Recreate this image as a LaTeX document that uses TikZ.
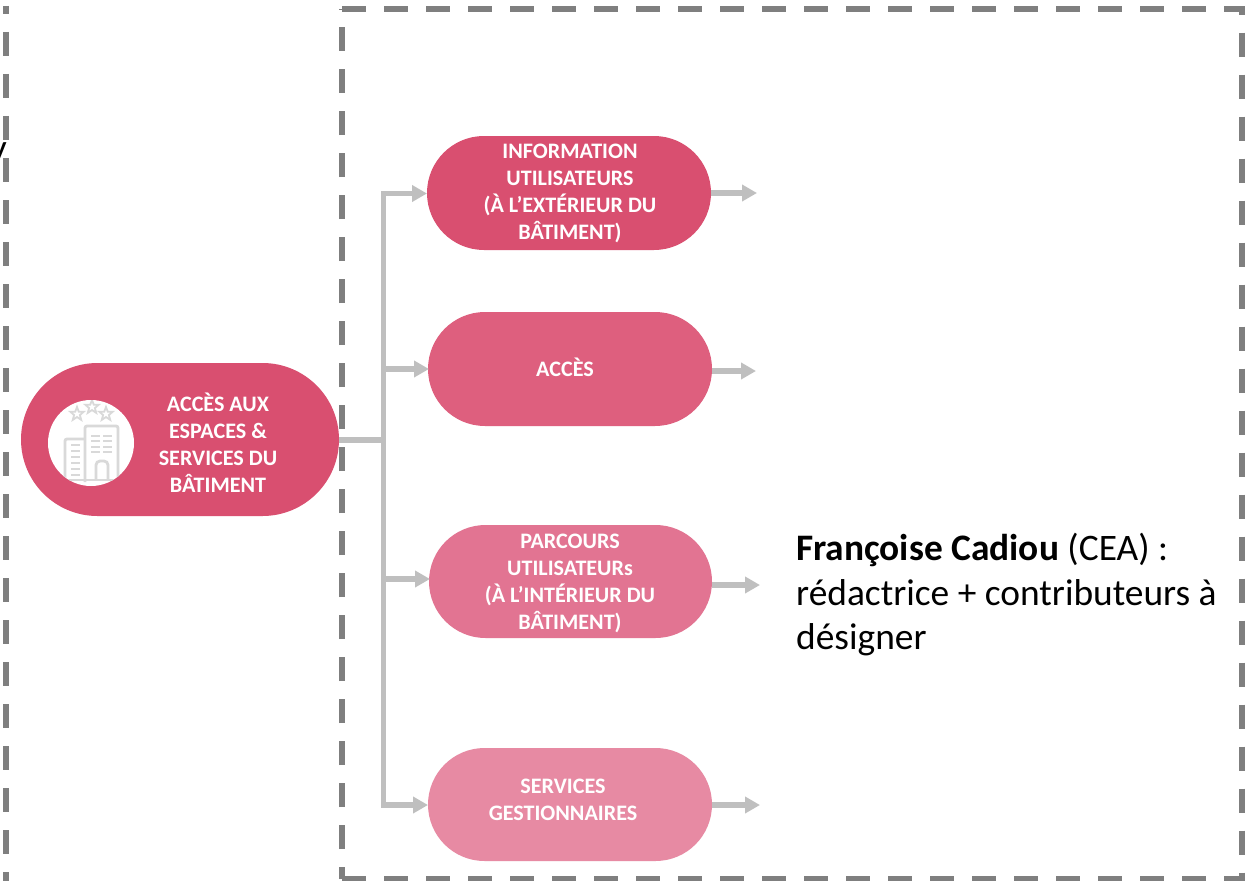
\documentclass[tikz,border=0pt]{standalone}
\usepackage{fontspec}
\setmainfont{Carlito}
\usetikzlibrary{arrows.meta,shapes.misc}
\definecolor{dashgrey}{HTML}{7F7F7F}
\definecolor{linegrey}{HTML}{BFBFBF}
\definecolor{icongrey}{HTML}{D9D9D9}
\definecolor{pinka}{HTML}{D94F70}
\definecolor{pinkb}{HTML}{DE5F7E}
\definecolor{pinkc}{HTML}{E27492}
\definecolor{pinkd}{HTML}{E78AA3}
\tikzset{
  pill/.style={rounded rectangle,rounded rectangle arc length=180,inner sep=0pt,draw=none},
  pilltext/.style={inner sep=0pt,text=white,align=center,font=\fontsize{22.1}{27}\selectfont\bfseries},
  dashline/.style={draw=dashgrey,line width=6pt,dash pattern=on 24pt off 18pt},
  conn/.style={draw=linegrey,line width=5.5pt},
  arr/.style={conn,-{Triangle[length=15pt,width=16pt]}},
  iconline/.style={draw=icongrey,line width=2.8pt},
  winline/.style={draw=icongrey,line width=2.2pt},
  staricon/.style={draw=icongrey,line width=1.8pt}
}
\newcommand{\iconstar}[2]{\draw[staricon] (#1,#2-7) -- (#1+1.8,#2-2.2) -- (#1+6.6,#2-2.2) -- (#1+2.9,#2+1) -- (#1+4.2,#2+5.8) -- (#1,#2+3) -- (#1-4.2,#2+5.8) -- (#1-2.9,#2+1) -- (#1-6.6,#2-2.2) -- (#1-1.8,#2-2.2) -- cycle;}
\begin{document}
\begin{tikzpicture}[x=1pt,y=-1pt]
\useasboundingbox (0,0) rectangle (1246,880);
\clip (0,0) rectangle (1246,880);
\fill[white] (0,0) rectangle (1246,880);
% cropped letter at left edge
\node[anchor=base east,inner sep=0pt,font=\fontsize{37.4}{44.5}\selectfont] (cut) at (7,160) {y};
% dashed frames
\draw[dashline,dash phase=16pt] (5.5,6) -- (5.5,886);
\draw[dashline] (342,8.7) -- (1242,8.7) -- (1242,879) -- (342,879);
\draw[dashline,dash phase=12pt] (342,879) -- (342,8.7);
% nodes
\node[pill,fill=pinka,minimum width=318pt,minimum height=153pt] (main) at (180,439.5) {};
\node[pill,fill=pinka,minimum width=284pt,minimum height=114pt] (info) at (569,193) {};
\node[pill,fill=pinkb,minimum width=284pt,minimum height=114pt] (acces) at (570,369) {};
\node[pill,fill=pinkc,minimum width=283pt,minimum height=113pt] (parc) at (570.5,581.5) {};
\node[pill,fill=pinkd,minimum width=284pt,minimum height=113pt] (serv) at (570,804.5) {};
\node[pilltext] (maintext) at (218,443) {ACCÈS AUX\\ESPACES \&\\SERVICES DU\\BÂTIMENT};
\node[pilltext] (infotext) at (570,193) {INFORMATION\\UTILISATEURS\\(À L’EXTÉRIEUR DU\\BÂTIMENT)};
\node[pilltext] (accestext) at (565,367) {ACCÈS};
\node[pilltext] (parctext) at (570,583.5) {PARCOURS\\UTILISATEURs\\(À L’INTÉRIEUR DU\\BÂTIMENT)};
\node[pilltext] (servtext) at (563,800) {SERVICES\\GESTIONNAIRES};
% icon
\node[circle,fill=white,minimum size=86pt,inner sep=0pt] (iconbg) at (91,443) {};
\begin{scope}
\clip (iconbg.center) circle (43pt);
\iconstar{77}{414}
\iconstar{92}{407}
\iconstar{106}{414}
\draw[iconline,rounded corners=2pt] (85,482) -- (85,426) -- (118,426) -- (118,482);
\draw[iconline,rounded corners=2pt] (85,439) -- (65,439) -- (65,482);
\draw[iconline] (60,480) -- (125,480);
\draw[iconline,rounded corners=4pt] (96,480) -- (96,461) -- (108,461) -- (108,480);
\foreach \y in {436,441,447,452}{\draw[winline] (91,\y) -- (100,\y); \draw[winline] (103,\y) -- (112,\y);}
\foreach \y in {445,451,457,463,469,475}{\draw[winline] (71,\y) -- (80,\y);}
\end{scope}
% connectors
\coordinate (trunk) at (383.5,440);
\coordinate (ta) at (383.5,193.5);
\coordinate (tb) at (383.5,369);
\coordinate (tc) at (383.5,579);
\coordinate (td) at (383.5,805);
\coordinate (ha) at (427,193.5);
\coordinate (hb) at (429,369);
\coordinate (hc) at (430,579);
\coordinate (hd) at (428,805);
\coordinate (ea) at (757,193);
\coordinate (eb) at (756,371);
\coordinate (ec) at (760,585);
\coordinate (ed) at (760,805);
\draw[conn] (main.east |- trunk) -- (trunk);
\draw[conn,line cap=rect] (ta) -- (td);
\draw[arr] (ta) -- (ha);
\draw[arr] (tb) -- (hb);
\draw[arr] (tc) -- (hc);
\draw[arr] (td) -- (hd);
\draw[arr] (info.east |- ea) -- (ea);
\draw[arr] (acces.east |- eb) -- (eb);
\draw[arr] (parc.east |- ec) -- (ec);
\draw[arr] (serv.east |- ed) -- (ed);
% text
\node[anchor=north west,inner sep=0pt,align=left,font=\fontsize{37.4}{44.5}\selectfont] (txt) at (796,533) {\textbf{Françoise Cadiou} (CEA) :\\rédactrice + contributeurs à\\désigner};
\end{tikzpicture}
\end{document}
